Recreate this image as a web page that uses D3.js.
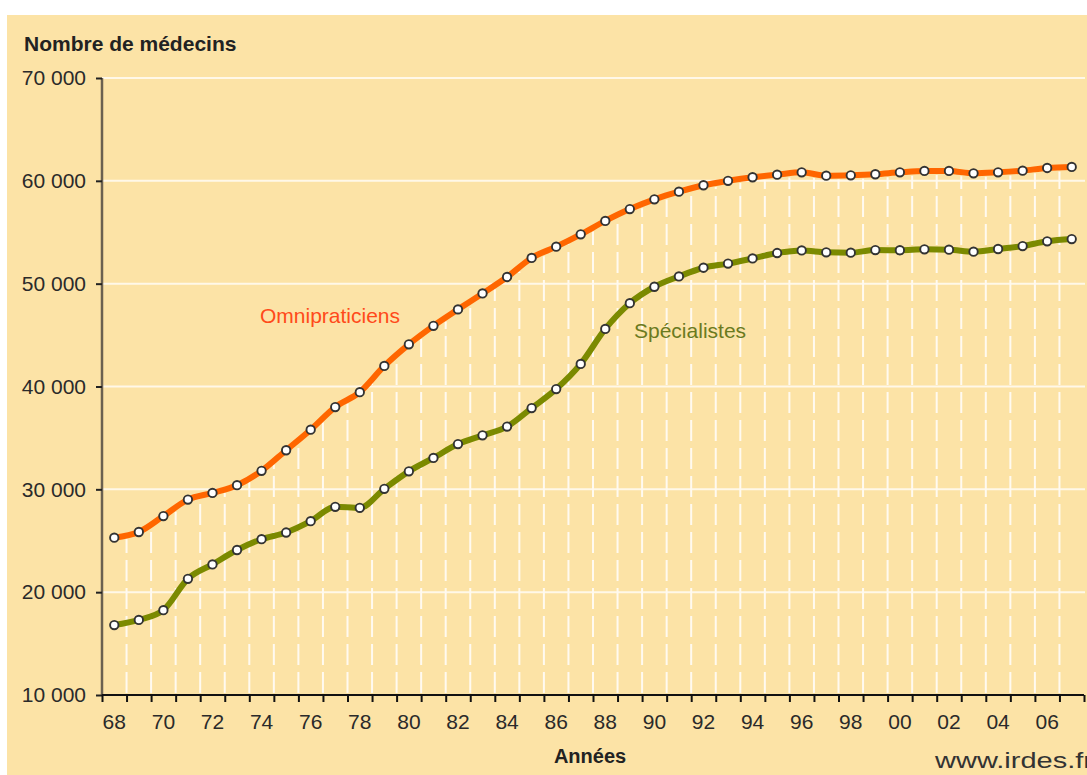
<!DOCTYPE html>
<html>
<head>
<meta charset="utf-8">
<script src="https://cdn.jsdelivr.net/npm/d3@7"></script>
<style>
  body { margin: 0; background: #ffffff; }
  svg { display: block; font-family: "Liberation Sans", Arial, sans-serif; }
</style>
</head>
<body>
<div id="chart"></div>
<script>
const years = [1968, 1969, 1970, 1971, 1972, 1973, 1974, 1975, 1976, 1977,
               1978, 1979, 1980, 1981, 1982, 1983, 1984, 1985, 1986, 1987,
               1988, 1989, 1990, 1991, 1992, 1993, 1994, 1995, 1996, 1997,
               1998, 1999, 2000, 2001, 2002, 2003, 2004, 2005, 2006, 2007];

const omnipraticiens = [25300, 25850, 27400, 29000, 29650, 30400, 31800, 33800, 35800, 38000,
                        39450, 42000, 44100, 45900, 47500, 49050, 50650, 52500, 53600, 54800,
                        56100, 57250, 58200, 58950, 59570, 60000, 60350, 60600, 60830, 60500,
                        60540, 60640, 60830, 60960, 60960, 60730, 60830, 60990, 61250, 61350];

const specialistes = [16800, 17300, 18250, 21300, 22700, 24100, 25150, 25800, 26900, 28300,
                      28200, 30050, 31750, 33050, 34400, 35250, 36100, 37900, 39750, 42200,
                      45600, 48100, 49700, 50700, 51550, 51950, 52450, 52980, 53230, 53050,
                      53010, 53270, 53250, 53340, 53310, 53110, 53370, 53660, 54120, 54340];

const yTicks = [10000, 20000, 30000, 40000, 50000, 60000, 70000];
const labelYears = years.filter((d, i) => i % 2 === 0);

const width = 1087, height = 775;
const plotLeft = 102, plotRight = 1084, plotTop = 78, plotBottom = 695;

const svg = d3.select("#chart").append("svg")
    .attr("width", width)
    .attr("height", height);

// beige panel
svg.append("rect")
    .attr("x", 7).attr("y", 15)
    .attr("width", width - 7).attr("height", height - 15)
    .attr("fill", "#fce3a6");

const x = d3.scaleBand().domain(years).range([plotLeft, plotRight]).padding(0);
const bw = x.bandwidth();
const xEdge = d3.scaleLinear().domain([0, years.length]).range([plotLeft, plotRight]);
const y = d3.scaleLinear().domain([10000, 70000]).range([plotBottom, plotTop]);

// horizontal grid
svg.append("g")
    .selectAll("line")
    .data(yTicks.filter(d => d > 10000))
    .join("line")
    .attr("x1", plotLeft).attr("x2", plotRight + 1)
    .attr("y1", d => y(d)).attr("y2", d => y(d))
    .attr("stroke", "#fff8e8")
    .attr("stroke-width", 2);

// dashed drop lines at year boundaries, up to the omnipraticiens curve
const edges = d3.range(1, years.length);
svg.append("g")
    .selectAll("line")
    .data(edges)
    .join("line")
    .attr("x1", i => xEdge(i)).attr("x2", i => xEdge(i))
    .attr("y1", plotBottom - 2)
    .attr("y2", i => y((omnipraticiens[i - 1] + omnipraticiens[i]) / 2) + 4)
    .attr("stroke", "#fffaf0")
    .attr("stroke-width", 2)
    .attr("stroke-dasharray", "21,7");

// y axis
const yAxis = svg.append("g")
    .attr("transform", `translate(${plotLeft},0)`)
    .call(d3.axisLeft(y).tickValues(yTicks).tickSize(6).tickPadding(10)
        .tickFormat(d => d3.format(",")(d).replace(",", " ")));
yAxis.select(".domain").attr("stroke", "#6b6150").attr("stroke-width", 2.5)
    .attr("d", `M0,${plotTop}V${plotBottom}`);
yAxis.selectAll(".tick line").attr("stroke", "#222").attr("stroke-width", 2);
yAxis.selectAll("text").attr("font-size", 21).attr("fill", "#2a2a2a")
    .attr("font-family", "Liberation Sans, Arial, sans-serif");

// x axis ticks at boundaries
const xTickAxis = svg.append("g")
    .attr("transform", `translate(0,${plotBottom})`)
    .call(d3.axisBottom(xEdge).tickValues(d3.range(0, years.length + 1)).tickSize(7).tickFormat(""));
xTickAxis.select(".domain").attr("stroke", "#111").attr("stroke-width", 2)
    .attr("d", `M${plotLeft},0H${plotRight}`);
xTickAxis.selectAll(".tick line").attr("stroke", "#111").attr("stroke-width", 2);

// x labels at band centres
const xLabelAxis = svg.append("g")
    .attr("transform", `translate(0,${plotBottom})`)
    .call(d3.axisBottom(x).tickValues(labelYears).tickSize(0).tickPadding(19)
        .tickFormat(d => String(d).slice(2)));
xLabelAxis.select(".domain").remove();
xLabelAxis.selectAll("text").attr("font-size", 21).attr("fill", "#2a2a2a")
    .attr("font-family", "Liberation Sans, Arial, sans-serif");

// lines
const line = d3.line()
    .x((d, i) => x(years[i]) + bw / 2)
    .y(d => y(d))
    .curve(d3.curveMonotoneX);

const series = [
    { name: "Omnipraticiens", values: omnipraticiens, color: "#ff6600" },
    { name: "Spécialistes", values: specialistes, color: "#7b8a00" }
];

series.forEach(s => {
    svg.append("path")
        .datum(s.values)
        .attr("d", line)
        .attr("fill", "none")
        .attr("stroke", s.color)
        .attr("stroke-width", 6)
        .attr("stroke-linejoin", "round");
});

series.forEach(s => {
    svg.append("g")
        .selectAll("circle")
        .data(s.values)
        .join("circle")
        .attr("cx", (d, i) => x(years[i]) + bw / 2)
        .attr("cy", d => y(d))
        .attr("r", 4.2)
        .attr("fill", "#ffffff")
        .attr("stroke", "#333")
        .attr("stroke-width", 1.9);
});

// series labels
svg.append("text")
    .attr("x", 260).attr("y", 323)
    .attr("font-size", 21)
    .attr("fill", "#ff4a1a")
    .text("Omnipraticiens");

svg.append("text")
    .attr("x", 634).attr("y", 338)
    .attr("font-size", 21)
    .attr("fill", "#6b7a1e")
    .text("Spécialistes");

// titles
svg.append("text")
    .attr("x", 24).attr("y", 51)
    .attr("font-size", 21)
    .attr("font-weight", "bold")
    .attr("fill", "#222")
    .text("Nombre de médecins");

svg.append("text")
    .attr("x", 590).attr("y", 763)
    .attr("text-anchor", "middle")
    .attr("font-size", 20)
    .attr("font-weight", "bold")
    .attr("fill", "#222")
    .text("Années");

svg.append("text")
    .attr("x", 935).attr("y", 768)
    .attr("font-size", 22)
    .attr("fill", "#333")
    .attr("textLength", 158)
    .attr("lengthAdjust", "spacingAndGlyphs")
    .text("www.irdes.fr");
</script>
</body>
</html>
